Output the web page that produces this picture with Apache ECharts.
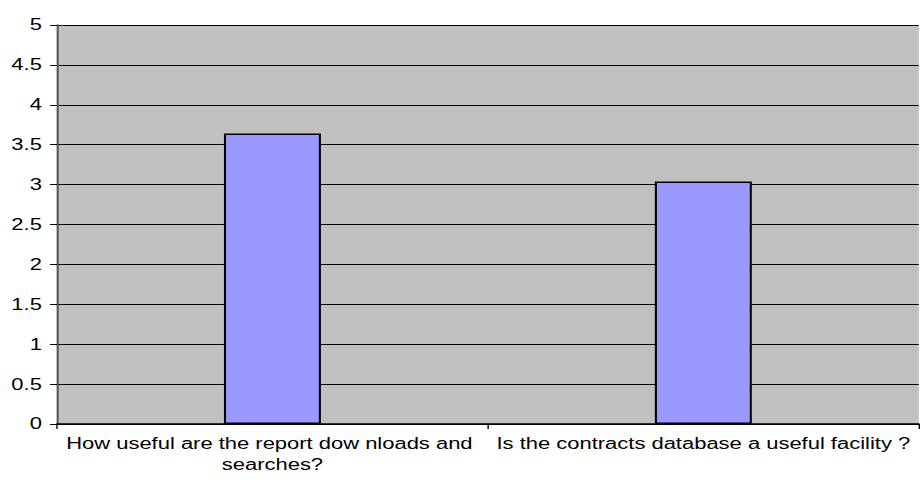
<!DOCTYPE html>
<html>
<head>
<meta charset="utf-8">
<script src="https://cdn.jsdelivr.net/npm/echarts@6/dist/echarts.min.js"></script>
<style>
html, body { margin: 0; padding: 0; background: #ffffff; overflow: hidden; }
#wrap { width: 920px; height: 492px; overflow: hidden; }
/* chart is laid out at its native width and widened to fill the page */
#chart { width: 670px; height: 492px; transform: scaleX(1.3731); transform-origin: 0 0; }
</style>
</head>
<body>
<div id="wrap"><div id="chart"></div></div>
<script>
// Survey questions and their mean scores
const categories = [
  'How useful are the report dow nloads and searches?',
  'Is the contracts database a useful facility ?'
];
const scores = [3.64, 3.04];
const yTicks = { min: 0, max: 5, step: 0.5 };

const font = 'Liberation Sans, Arial, sans-serif';
const chart = echarts.init(document.getElementById('chart'), null, { renderer: 'svg' });
chart.setOption({
  animation: false,
  grid: {
    left: 41.5, right: 0, top: 25, bottom: 68,
    show: true, backgroundColor: '#c0c0c0', borderWidth: 0
  },
  xAxis: {
    type: 'category',
    data: categories,
    axisLine: { lineStyle: { color: '#000000', width: 1.5 } },
    axisTick: { show: true, length: 5, alignWithLabel: false, lineStyle: { color: '#000000' } },
    axisLabel: {
      color: '#000000', fontFamily: font, fontSize: 16,
      margin: 9, width: 310, overflow: 'break', lineHeight: 21, interval: 0
    }
  },
  yAxis: {
    type: 'value',
    min: yTicks.min, max: yTicks.max, interval: yTicks.step,
    axisLine: { show: true, lineStyle: { color: '#555555', width: 1.5 } },
    axisTick: { show: true, length: 5, lineStyle: { color: '#000000' } },
    axisLabel: { color: '#000000', fontFamily: font, fontSize: 16, margin: 11 },
    splitLine: { show: true, lineStyle: { color: '#000000', width: 1 } }
  },
  series: [{
    type: 'bar',
    data: scores,
    barWidth: '22.5%',
    itemStyle: { color: '#9999ff', borderColor: '#000000', borderWidth: 1.5 }
  }]
});
</script>
</body>
</html>
